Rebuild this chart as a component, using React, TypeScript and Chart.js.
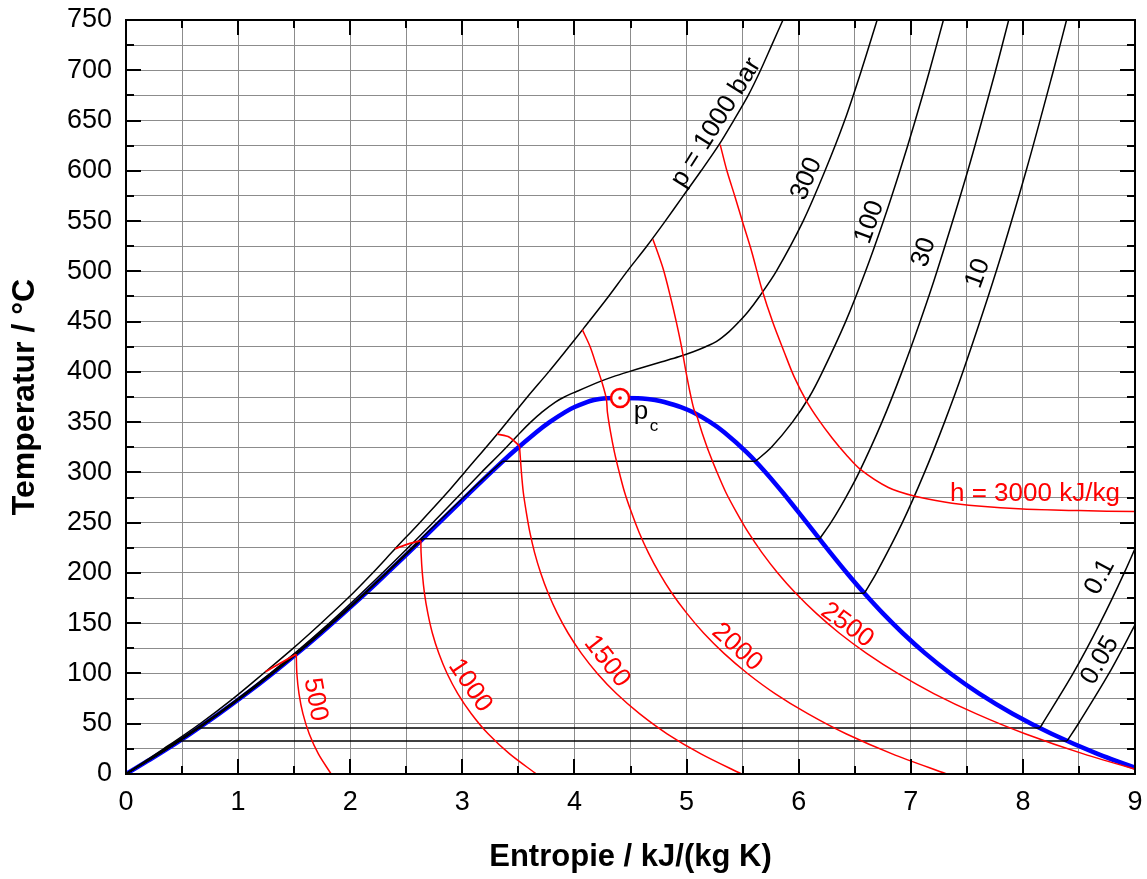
import React, { useEffect, useRef } from 'react';
import { Chart, registerables } from 'chart.js';

Chart.register(...registerables);

type P = [number, number]; // [entropy s, temperature T]

// ---- axis ticks ----
const xMin = 0, xMax = 9, xStep = 0.5;
const yMin = 0, yMax = 750, yStep = 25;

// ---- saturation dome ----
const domeLiquid: P[] = [[0, 0], [0.2966, 20], [0.5724, 40], [0.8313, 60], [1.0756, 80], [1.3072, 100], [1.5279, 120], [1.7392, 140], [1.9426, 160], [2.1392, 180], [2.3305, 200], [2.5177, 220], [2.702, 240], [2.8849, 260], [3.0685, 280], [3.2552, 300], [3.4494, 320], [3.6601, 340], [3.7784, 350], [3.9167, 360], [4.0014, 365], [4.1112, 370], [4.173, 372], [4.222, 373], [4.288, 373.7], [4.407, 373.95]];
const domeVapor: P[] = [[4.407, 373.95], [4.565, 373.7], [4.653, 373], [4.719, 372], [4.8012, 370], [4.9497, 365], [5.0536, 360], [5.211, 350], [5.3356, 340], [5.5372, 320], [5.7059, 300], [5.8579, 280], [6.0016, 260], [6.1423, 240], [6.284, 220], [6.4302, 200], [6.584, 180], [6.7491, 160], [6.9293, 140], [7.1291, 120], [7.3541, 100], [7.6111, 80], [7.9081, 60], [8.2555, 40], [8.6661, 20], [9.1555, 0]];
const criticalPoint: P = [4.407, 373.95];

// ---- isobars ----
const p1000: P[] = [[0, 0], [0.335, 25], [0.66, 50], [0.955, 75], [1.225, 100], [1.49, 125], [1.74, 150], [1.98, 175], [2.2, 200], [2.4, 224], [2.62, 250], [2.89, 283], [3.02, 300], [3.31, 338], [3.58, 375], [3.77, 400], [3.93, 422], [4.08, 443], [4.29, 473], [4.47, 500], [4.645, 525], [4.81, 550], [4.97, 575], [5.13, 600], [5.29, 626], [5.42, 650], [5.55, 675], [5.66, 700], [5.76, 725], [5.86, 750]];
const p300: P[] = [[0, 0], [0.69, 50], [1.285, 100], [1.812, 150], [2.287, 200], [2.737, 250], [3.17, 300], [3.35, 320], [3.52, 340], [3.61, 350], [3.71, 360], [3.83, 370], [3.91, 375], [4.01, 380], [4.22, 390], [4.34, 395], [4.48, 400], [4.63, 405], [4.78, 410], [4.93, 415], [5.06, 420], [5.17, 425], [5.265, 430], [5.38, 440], [5.47, 450], [5.55, 460], [5.65, 475], [5.8, 500], [6.04, 550], [6.235, 600], [6.41, 650], [6.56, 700], [6.7, 750]];

const p100Liquid: P[] = [[0, 0], [0.5685, 40], [1.0691, 80], [1.5191, 120], [1.9316, 160], [2.3174, 200], [2.6867, 240], [3.0567, 280], [3.2487, 300], [3.3596, 311.06]];
const p100Wet: P[] = [[3.3596, 311.06], [5.6141, 311.06]];
const p100Vapor: P[] = [[5.6141, 311.06], [5.7568, 325], [5.9443, 350], [6.0946, 375], [6.212, 400], [6.419, 450], [6.5966, 500], [6.7561, 550], [6.9029, 600], [7.0398, 650], [7.1687, 700], [7.2912, 750]];

const p30Liquid: P[] = [[0, 0], [0.5716, 40], [1.0745, 80], [1.5264, 120], [1.9405, 160], [2.3278, 200], [2.6457, 233.9]];
const p30Wet: P[] = [[2.6457, 233.9], [6.1869, 233.9]];
const p30Vapor: P[] = [[6.1869, 233.9], [6.2872, 250], [6.42, 275], [6.539, 300], [6.7428, 350], [6.9212, 400], [7.0834, 450], [7.2338, 500], [7.5085, 600], [7.7571, 700], [7.8735, 750]];

const p10Liquid: P[] = [[0, 0], [0.5722, 40], [1.0753, 80], [1.5276, 120], [1.9423, 160], [2.1387, 179.91]];
const p10Wet: P[] = [[2.1387, 179.91], [6.5865, 179.91]];
const p10Vapor: P[] = [[6.5865, 179.91], [6.694, 200], [6.9247, 250], [7.1229, 300], [7.3011, 350], [7.4651, 400], [7.7622, 500], [8.029, 600], [8.2731, 700], [8.3895, 750]];

const p01Liquid: P[] = [[0, 0], [0.2966, 20], [0.6493, 45.81]];
const p01Wet: P[] = [[0.6493, 45.81], [8.1502, 45.81]];
const p01Vapor: P[] = [[8.1502, 45.81], [8.1749, 50], [8.4479, 100], [8.6882, 150], [8.9038, 200], [9.1002, 250]];

const p005Liquid: P[] = [[0, 0], [0.2966, 20], [0.4763, 32.88]];
const p005Wet: P[] = [[0.4763, 32.88], [8.3938, 32.88]];
const p005Vapor: P[] = [[8.3938, 32.88], [8.4948, 50], [8.7678, 100], [9.0081, 150]];

// ---- isenthalps ----
const h500Liquid: P[] = [[1.245, 101.7], [1.38, 110.5], [1.519, 119.2]];
const h500Wet: P[] = [[1.519, 119.2], [1.524, 100], [1.543, 80], [1.578, 60], [1.634, 40], [1.716, 20], [1.83, 0]];
const h1000Liquid: P[] = [[2.4, 224], [2.52, 229], [2.63, 232.1]];
const h1000Wet: P[] = [[2.63, 232.1], [2.632, 220], [2.643, 200], [2.662, 180], [2.692, 160], [2.733, 140], [2.79, 120], [2.864, 100], [2.959, 80], [3.08, 60], [3.23, 40], [3.422, 20], [3.66, 0]];
const h1500Liquid: P[] = [[3.31, 338], [3.42, 335], [3.51, 326]];
const h1500Wet: P[] = [[3.51, 326], [3.527, 300], [3.544, 280], [3.571, 260], [3.603, 240], [3.645, 220], [3.699, 200], [3.765, 180], [3.846, 160], [3.944, 140], [4.062, 120], [4.204, 100], [4.374, 80], [4.58, 60], [4.826, 40], [5.128, 20], [5.49, 0]];
const h2000: P[] = [[4.07, 442], [4.14, 425], [4.2, 405], [4.25, 388], [4.285, 373], [4.294, 360], [4.322, 340], [4.357, 320], [4.4, 300], [4.448, 280], [4.509, 260], [4.578, 240], [4.66, 220], [4.756, 200], [4.868, 180], [5.001, 160], [5.154, 140], [5.334, 120], [5.544, 100], [5.789, 80], [6.081, 60], [6.422, 40], [6.834, 20], [7.32, 0]];
const h2500: P[] = [[4.7, 532], [4.79, 503], [4.86, 473], [4.91, 449], [4.955, 425], [4.995, 400], [5.03, 380], [5.065, 363], [5.095, 355], [5.109, 350], [5.137, 340], [5.2, 320], [5.272, 300], [5.351, 280], [5.447, 260], [5.552, 240], [5.674, 220], [5.813, 200], [5.972, 180], [6.155, 160], [6.364, 140], [6.606, 120], [6.884, 100], [7.205, 80], [7.581, 60], [8.019, 40], [8.54, 20], [9.15, 0]];
const h3000: P[] = [[5.3, 626], [5.36, 600], [5.43, 575], [5.5, 549], [5.58, 520], [5.67, 483], [5.77, 449], [5.87, 420], [5.96, 395], [6.07, 371], [6.18, 352], [6.3, 334], [6.42, 318], [6.55, 303], [6.8, 285], [7.03, 276.5], [7.3, 270.5], [7.6, 266.5], [8.0, 263.5], [8.5, 262], [9.0, 261]];

// ---- curve labels ----
const curveLabels = [
  { text: 'p = 1000 bar', s: 5.264, T: 648, angle: -58, color: '#000000' },
  { text: '300', s: 6.07, T: 592, angle: -67, color: '#000000' },
  { text: '100', s: 6.633, T: 549, angle: -70, color: '#000000' },
  { text: '30', s: 7.117, T: 519, angle: -72, color: '#000000' },
  { text: '10', s: 7.6, T: 498, angle: -70, color: '#000000' },
  { text: '0.1', s: 8.688, T: 196, angle: -62, color: '#000000' },
  { text: '0.05', s: 8.688, T: 113, angle: -60, color: '#000000' },
  { text: '500', s: 1.688, T: 74, angle: 80, color: '#ff0000' },
  { text: '1000', s: 3.07, T: 88, angle: 56, color: '#ff0000' },
  { text: '1500', s: 4.29, T: 112, angle: 52, color: '#ff0000' },
  { text: '2000', s: 5.45, T: 126, angle: 42, color: '#ff0000' },
  { text: '2500', s: 6.433, T: 148, angle: 36, color: '#ff0000' },
];
const h3000Label = { text: 'h = 3000 kJ/kg', s: 7.35, T: 279 };
const pcLabel = { main: 'p', sub: 'c', s: 4.53, T: 353, subS: 4.672, subT: 341.5 };

const FONT = "'Liberation Sans', Arial, Helvetica, sans-serif";
const BLACK = '#000000';
const RED = '#ff0000';
const BLUE = '#0000ff';

const toXY = (pts: P[]) => pts.map(([s, T]) => ({ x: s, y: T }));

function lineDs(pts: P[], color: string, width: number, order: number, tension = 0.3) {
  return {
    type: 'scatter' as const,
    data: toXY(pts),
    showLine: true,
    borderColor: color,
    backgroundColor: color,
    borderWidth: width,
    pointRadius: 0,
    pointHoverRadius: 0,
    tension,
    fill: false,
    order,
  };
}

const frameTicksPlugin = {
  id: 'frameTicks',
  afterDraw(chart: any) {
    const { ctx, chartArea, scales } = chart;
    const { left, right, top, bottom } = chartArea;
    const xs = scales.x, ys = scales.y;
    ctx.save();
    ctx.strokeStyle = BLACK;
    ctx.lineWidth = 2;
    ctx.beginPath();
    xs.ticks.forEach((t: any) => {
      const px = Math.round(xs.getPixelForValue(t.value));
      const len = Number.isInteger(t.value) ? 15 : 8;
      ctx.moveTo(px, bottom);
      ctx.lineTo(px, bottom - len);
      ctx.moveTo(px, top);
      ctx.lineTo(px, top + len);
    });
    ys.ticks.forEach((t: any) => {
      const py = Math.round(ys.getPixelForValue(t.value));
      const len = t.value % 50 === 0 ? 15 : 8;
      ctx.moveTo(left, py);
      ctx.lineTo(left + len, py);
      ctx.moveTo(right, py);
      ctx.lineTo(right - len, py);
    });
    ctx.stroke();
    ctx.strokeRect(left, top, right - left, bottom - top);
    ctx.restore();
  },
};

const labelsPlugin = {
  id: 'curveLabels',
  afterDatasetsDraw(chart: any) {
    const { ctx, scales } = chart;
    const xs = scales.x, ys = scales.y;
    ctx.save();
    ctx.font = `26px ${FONT}`;
    ctx.textAlign = 'center';
    ctx.textBaseline = 'middle';
    curveLabels.forEach((l) => {
      const px = xs.getPixelForValue(l.s);
      const py = ys.getPixelForValue(l.T);
      ctx.save();
      ctx.translate(px, py);
      ctx.rotate((l.angle * Math.PI) / 180);
      ctx.fillStyle = l.color;
      ctx.fillText(l.text, 0, 0);
      ctx.restore();
    });
    ctx.fillStyle = RED;
    ctx.textAlign = 'left';
    ctx.fillText(h3000Label.text, xs.getPixelForValue(h3000Label.s), ys.getPixelForValue(h3000Label.T));
    ctx.fillStyle = BLACK;
    ctx.textBaseline = 'alphabetic';
    ctx.fillText(pcLabel.main, xs.getPixelForValue(pcLabel.s), ys.getPixelForValue(pcLabel.T));
    ctx.font = `17px ${FONT}`;
    ctx.fillText(pcLabel.sub, xs.getPixelForValue(pcLabel.subS), ys.getPixelForValue(pcLabel.subT));
    ctx.restore();
  },
};

const zeroPad = (scale: any) => {
  scale.paddingTop = 0;
  scale.paddingBottom = 0;
  scale.paddingLeft = 0;
  scale.paddingRight = 0;
};

export default function App() {
  const ref = useRef<HTMLCanvasElement>(null);
  useEffect(() => {
    if (!ref.current) return;
    const datasets: any[] = [
      lineDs([...domeLiquid, ...domeVapor.slice(1)], BLUE, 4.5, 30, 0.25),
      lineDs(p1000, BLACK, 1.5, 20),
      lineDs(p300, BLACK, 1.5, 20),
      lineDs(p100Liquid, BLACK, 1.5, 20),
      lineDs(p100Wet, BLACK, 1.5, 20, 0),
      lineDs(p100Vapor, BLACK, 1.5, 20),
      lineDs(p30Liquid, BLACK, 1.5, 20),
      lineDs(p30Wet, BLACK, 1.5, 20, 0),
      lineDs(p30Vapor, BLACK, 1.5, 20),
      lineDs(p10Liquid, BLACK, 1.5, 20),
      lineDs(p10Wet, BLACK, 1.5, 20, 0),
      lineDs(p10Vapor, BLACK, 1.5, 20),
      lineDs(p01Liquid, BLACK, 1.5, 20),
      lineDs(p01Wet, BLACK, 1.5, 20, 0),
      lineDs(p01Vapor, BLACK, 1.5, 20),
      lineDs(p005Liquid, BLACK, 1.5, 20),
      lineDs(p005Wet, BLACK, 1.5, 20, 0),
      lineDs(p005Vapor, BLACK, 1.5, 20),
      lineDs(h500Liquid, RED, 1.8, 10),
      lineDs(h500Wet, RED, 1.5, 10),
      lineDs(h1000Liquid, RED, 1.8, 10),
      lineDs(h1000Wet, RED, 1.5, 10),
      lineDs(h1500Liquid, RED, 1.8, 10),
      lineDs(h1500Wet, RED, 1.5, 10),
      lineDs(h2000, RED, 1.5, 10),
      lineDs(h2500, RED, 1.5, 10),
      lineDs(h3000, RED, 1.5, 10),
      {
        type: 'scatter',
        data: toXY([criticalPoint]),
        pointRadius: 9,
        pointHoverRadius: 9,
        pointBorderWidth: 2.5,
        pointBorderColor: RED,
        pointBackgroundColor: '#ffffff',
        order: 1,
      },
      {
        type: 'scatter',
        data: toXY([criticalPoint]),
        pointRadius: 1.8,
        pointHoverRadius: 1.8,
        pointBorderWidth: 0,
        pointBackgroundColor: RED,
        order: 0,
      },
    ];
    const chart = new Chart(ref.current, {
      type: 'scatter',
      data: { datasets },
      plugins: [labelsPlugin, frameTicksPlugin],
      options: {
        responsive: false,
        animation: false,
        devicePixelRatio: 1,
        events: [],
        layout: { padding: { left: 0, right: 12, top: 20, bottom: 0 }, autoPadding: false },
        plugins: { legend: { display: false }, tooltip: { enabled: false } },
        scales: {
          x: {
            type: 'linear',
            min: xMin,
            max: xMax,
            afterFit: (scale: any) => { scale.height = 105; zeroPad(scale); },
            ticks: {
              stepSize: xStep,
              autoSkip: false,
              maxRotation: 0,
              padding: 12,
              color: BLACK,
              font: { family: FONT, size: 27 },
              callback: (v: any) => (Number.isInteger(v) ? String(v) : ''),
            },
            grid: { color: '#8c8c8c', lineWidth: 1, drawTicks: false },
            border: { display: false },
            title: {
              display: true,
              text: 'Entropie / kJ/(kg K)',
              color: BLACK,
              font: { family: FONT, size: 31, weight: 'bold' },
              padding: 3,
            },
          },
          y: {
            type: 'linear',
            min: yMin,
            max: yMax,
            afterFit: (scale: any) => { scale.width = 126; zeroPad(scale); },
            ticks: {
              stepSize: yStep,
              autoSkip: false,
              padding: 14,
              color: BLACK,
              font: { family: FONT, size: 27 },
              callback: (v: any) => (v % 50 === 0 ? String(v) : ''),
            },
            grid: { color: '#8c8c8c', lineWidth: 1, drawTicks: false },
            border: { display: false },
            title: {
              display: true,
              text: 'Temperatur / °C',
              color: BLACK,
              font: { family: FONT, size: 32, weight: 'bold' },
              padding: 6,
            },
          },
        },
      } as any,
    });
    return () => chart.destroy();
  }, []);
  return (
    <div style={{ position: 'absolute', left: 0, top: 0, width: 1147, height: 879, background: '#ffffff' }}>
      <canvas ref={ref} width={1147} height={879} style={{ display: 'block', width: 1147, height: 879 }} />
    </div>
  );
}
